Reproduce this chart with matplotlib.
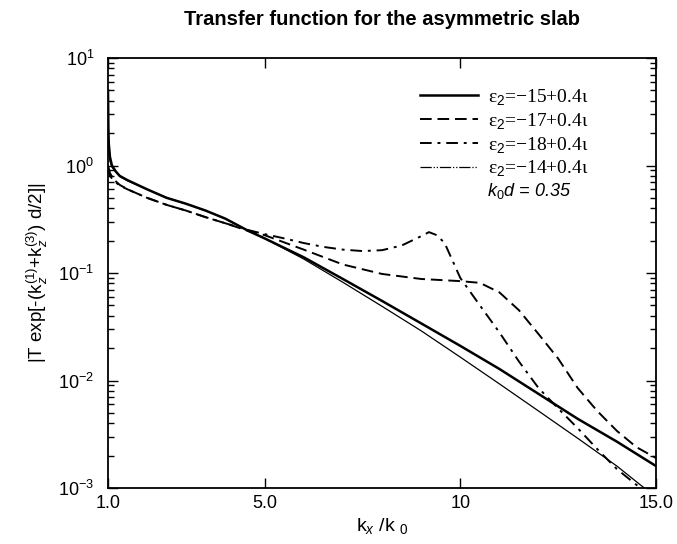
import matplotlib
matplotlib.use("Agg")
import matplotlib.pyplot as plt
from matplotlib.lines import Line2D
from matplotlib.ticker import FixedLocator, FixedFormatter, LogLocator, NullFormatter

# ---------------- data ----------------
k_a = [1.0, 1.01, 1.02, 1.05, 1.1, 1.2, 1.3, 1.5, 2.0, 2.5, 3.0, 3.5, 4.0, 4.6, 5.0,
       6.0, 7.0, 8.0, 9.0, 10.0, 11.0, 12.0, 13.0, 14.0, 15.0]
T_m15 = [5.0, 2.2, 1.6, 1.2, 1.0, 0.88, 0.8, 0.73, 0.6, 0.5, 0.44, 0.38, 0.32, 0.245,
         0.21, 0.14, 0.088, 0.055, 0.034, 0.021, 0.0128, 0.0075, 0.0044, 0.0027, 0.0016]

k_b = [1.0, 1.01, 1.02, 1.05, 1.1, 1.2, 1.3, 1.5, 2.0, 2.5, 3.0, 3.5, 4.0, 4.6, 5.0,
       6.0, 7.0, 8.0, 9.0, 10.0, 11.0, 12.0, 13.0, 14.0, 14.7]
T_m14 = [3.5, 1.7, 1.4, 1.1, 0.97, 0.87, 0.79, 0.72, 0.6, 0.5, 0.44, 0.38, 0.32, 0.245,
         0.21, 0.135, 0.082, 0.049, 0.029, 0.0165, 0.0093, 0.0052, 0.0029, 0.0016, 0.001]

k_c = [1.0, 1.05, 1.15, 1.3, 1.5, 2.0, 2.5, 3.0, 3.5, 4.0, 4.6, 5.0, 6.0, 7.0, 8.0, 9.0,
       10.0, 10.5, 11.0, 11.5, 12.0, 12.5, 13.0, 13.5, 14.0, 14.5, 15.0]
T_m17 = [1.0, 0.85, 0.74, 0.66, 0.6, 0.5, 0.43, 0.38, 0.33, 0.29, 0.245, 0.225, 0.165,
         0.12, 0.098, 0.088, 0.084, 0.081, 0.066, 0.045, 0.027, 0.016, 0.0085, 0.0052,
         0.0034, 0.0024, 0.0019]

k_d = [1.0, 1.05, 1.15, 1.3, 1.5, 2.0, 2.5, 3.0, 3.5, 4.0, 4.6, 5.0, 5.5, 6.0, 6.5, 7.0,
       7.5, 8.0, 8.5, 9.0, 9.2, 9.4, 9.6, 10.0, 10.5, 11.0, 11.5, 12.0, 12.5, 13.0,
       13.5, 14.0, 14.6]
T_m18 = [0.95, 0.8, 0.72, 0.65, 0.6, 0.5, 0.43, 0.38, 0.33, 0.29, 0.25, 0.23, 0.21, 0.19,
         0.175, 0.165, 0.16, 0.163, 0.18, 0.22, 0.24, 0.225, 0.19, 0.09, 0.05, 0.028,
         0.015, 0.0085, 0.0055, 0.0036, 0.0023, 0.0015, 0.001]

labels = ["\u03b5$_2$=\u221215+0.4\u03b9", "\u03b5$_2$=\u221217+0.4\u03b9",
          "\u03b5$_2$=\u221218+0.4\u03b9", "\u03b5$_2$=\u221214+0.4\u03b9"]
xticks = [1.0, 5.0, 10.0, 15.0]
xticklabels = ["1.0", "5.0", "10", "15.0"]

# ---------------- figure ----------------
plt.rcParams['font.family'] = ['Liberation Sans', 'DejaVu Sans']
plt.rcParams['mathtext.fontset'] = 'custom'
plt.rcParams['mathtext.rm'] = 'Liberation Sans'
plt.rcParams['mathtext.it'] = 'Liberation Sans:italic'

fig = plt.figure(figsize=(6.77, 5.44), dpi=100)
ax = fig.add_axes([108/677, 1-488/544, (656-108)/677, (488-58)/544])

styles = [dict(lw=1.8, ls='-'),
          dict(lw=1.4, ls=(0, (6, 3))),
          dict(lw=1.4, ls=(0, (6, 3, 1.5, 3))),
          dict(lw=0.9, ls=(0, (9, 1.5, 1, 1.5, 1, 1.5)))]

ax.plot(k_a, T_m15, color='black', **styles[0])
ax.plot(k_c, T_m17, color='black', **styles[1])
ax.plot(k_d, T_m18, color='black', **styles[2])
ax.plot(k_b, T_m14, color='black', lw=0.9, ls='-')

ax.set_yscale('log')
ax.set_xlim(1.0, 15.0)
ax.set_ylim(1e-3, 1e1)

ax.xaxis.set_major_locator(FixedLocator(xticks))
ax.xaxis.set_major_formatter(FixedFormatter(xticklabels))
ax.xaxis.set_minor_locator(FixedLocator([]))
ax.yaxis.set_major_locator(LogLocator(base=10, numticks=10))
ax.yaxis.set_minor_locator(LogLocator(base=10, subs=range(2, 10), numticks=20))
ax.yaxis.set_minor_formatter(NullFormatter())

ax.tick_params(which='both', direction='in', top=True, right=True, labelsize=13)
ax.tick_params(which='major', length=7, width=1)
ax.tick_params(which='minor', length=4, width=1)
ax.tick_params(axis='x', pad=5)
ax.tick_params(axis='y', pad=10)
for s in ax.spines.values():
    s.set_linewidth(1.3)

ax.set_title('Transfer function for the asymmetric slab', fontsize=14.5,
             fontweight='bold', pad=24)
ax.set_xlabel('k$_x$ /k $_0$', fontsize=14, labelpad=3)
ax.set_ylabel('|T exp[-(k$_z^{(1)}$+k$_z^{(3)}$) d/2]|', fontsize=13.5, labelpad=6)

handles = [Line2D([], [], color='black', **st) for st in styles]
leg = ax.legend(handles, labels, loc='upper left', bbox_to_anchor=(0.569, 0.933),
                frameon=False, borderpad=0, borderaxespad=0,
                prop={'family': 'Liberation Serif', 'size': 14},
                handlelength=3.0, handletextpad=0.5, labelspacing=0.2)
ax.text(0.692, 0.69, '$k_0d$ = 0.35', transform=ax.transAxes, fontsize=13,
        style='italic', ha='left', va='center')

fig.savefig('out.png', dpi=100)
